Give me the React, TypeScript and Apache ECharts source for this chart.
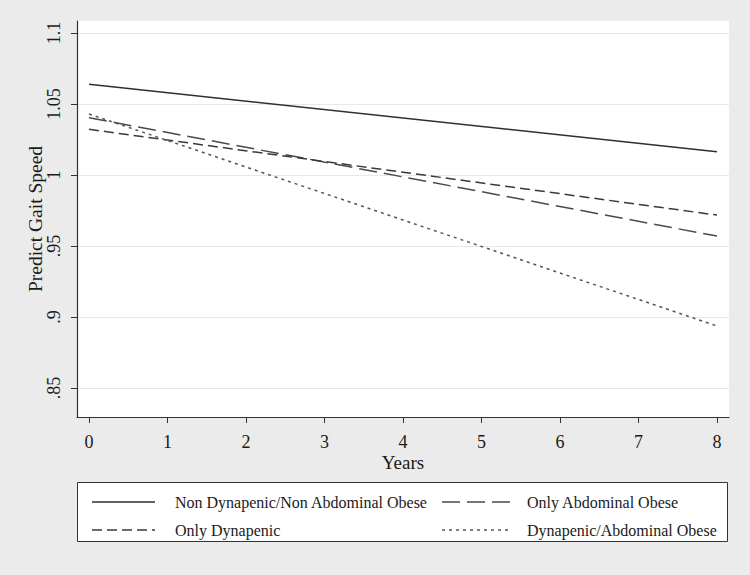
import React, { useEffect, useRef } from "react";
import * as echarts from "echarts";

const years = [0, 8];
const nonDynNonObese = [1.064, 1.0164];
const onlyAbdObese = [1.0404, 0.957];
const onlyDynapenic = [1.0322, 0.9718];
const dynAbdObese = [1.043, 0.8937];

const yTicks = [0.85, 0.9, 0.95, 1, 1.05, 1.1];
const xTicks = [0, 1, 2, 3, 4, 5, 6, 7, 8];

const seriesNames = [
  "Non Dynapenic/Non Abdominal Obese",
  "Only Abdominal Obese",
  "Only Dynapenic",
  "Dynapenic/Abdominal Obese",
];

const FONT = "Liberation Serif";

function fmtY(v: number) {
  const s = String(Math.round(v * 100) / 100);
  return s.replace(/^0\./, ".");
}

export default function App() {
  const ref = useRef<HTMLDivElement>(null);
  useEffect(() => {
    if (!ref.current) return;
    const chart = echarts.init(ref.current, null, { renderer: "svg" });
    const mk = (name: string, vals: number[], dash: any, color: string, width: number) => ({
      name,
      type: "line",
      data: years.map((x, i) => [x, vals[i]]),
      showSymbol: false,
      symbol: "none",
      lineStyle: { color, width, type: dash },
      silent: true,
    });
    const styles: [any, string, number][] = [
      ["solid", "#2f2f2f", 1.5],
      [[18, 7], "#4a4a4a", 1.5],
      [[10, 5], "#3a3a3a", 1.5],
      [[3, 4], "#555555", 1.5],
    ];
    const data = [nonDynNonObese, onlyAbdObese, onlyDynapenic, dynAbdObese];
    const series: any[] = data.map((d, i) => mk(seriesNames[i], d, styles[i][0], styles[i][1], styles[i][2]));

    const lx = [92, 442];
    const tx = [175, 527];
    const ly = [502, 530];
    const legendEls: any[] = [
      {
        type: "rect",
        shape: { x: 77.5, y: 482.5, width: 650, height: 59 },
        style: { fill: "#ffffff", stroke: "#333333", lineWidth: 1 },
      },
    ];
    const pos = [
      [0, 0],
      [1, 0],
      [0, 1],
      [1, 1],
    ];
    const sampleLen = [63, 68, 63, 68];
    pos.forEach(([c, r], i) => {
      legendEls.push({
        type: "line",
        shape: { x1: lx[c], y1: ly[r], x2: lx[c] + sampleLen[i], y2: ly[r] },
        style: { stroke: styles[i][1], lineWidth: 1.5, lineDash: styles[i][0] === "solid" ? null : styles[i][0] },
      });
      legendEls.push({
        type: "text",
        x: tx[c],
        y: ly[r],
        style: {
          text: seriesNames[i],
          font: `16px '${FONT}'`,
          fill: "#1a1a1a",
          verticalAlign: "middle",
          align: "left",
        },
      });
    });

    chart.setOption({
      animation: false,
      backgroundColor: "#ebebeb",
      grid: { left: 77, right: 21, top: 21, bottom: 158, show: true, backgroundColor: "#ffffff", borderWidth: 0 },
      xAxis: {
        type: "value",
        min: -0.153,
        max: 8.153,
        name: "Years",
        nameLocation: "middle",
        nameGap: 36,
        nameMoveOverlap: false,
        nameTextStyle: { fontFamily: FONT, fontSize: 19, color: "#1a1a1a" },
        axisLine: { show: true, onZero: false, lineStyle: { color: "#333333", width: 1.2 } },
        axisTick: { show: true, length: 6, lineStyle: { color: "#333333" }, customValues: xTicks },
        axisLabel: { fontFamily: FONT, fontSize: 18, color: "#1a1a1a", margin: 16, customValues: xTicks },
        splitLine: { show: false },
      },
      yAxis: {
        type: "value",
        min: 0.8296,
        max: 1.1085,
        name: "Predict Gait Speed",
        nameLocation: "middle",
        nameRotate: 90,
        nameGap: 32,
        nameMoveOverlap: false,
        nameTextStyle: { fontFamily: FONT, fontSize: 19.5, color: "#1a1a1a" },
        axisLine: { show: true, onZero: false, lineStyle: { color: "#333333", width: 1.2 } },
        axisTick: { show: true, length: 6, lineStyle: { color: "#333333" }, customValues: yTicks },
        axisLabel: {
          fontFamily: FONT,
          fontSize: 18,
          color: "#1a1a1a",
          rotate: 90,
          margin: 14,
          customValues: yTicks,
          formatter: (v: number) => fmtY(v),
        },
        splitLine: { show: true, lineStyle: { color: "#e8e8e8", width: 1.2 } },
      },
      series,
      graphic: legendEls,
    });
    return () => chart.dispose();
  }, []);
  return (
    <div
      ref={ref}
      style={{ position: "absolute", left: 0, top: 0, width: 750, height: 575 }}
    />
  );
}
